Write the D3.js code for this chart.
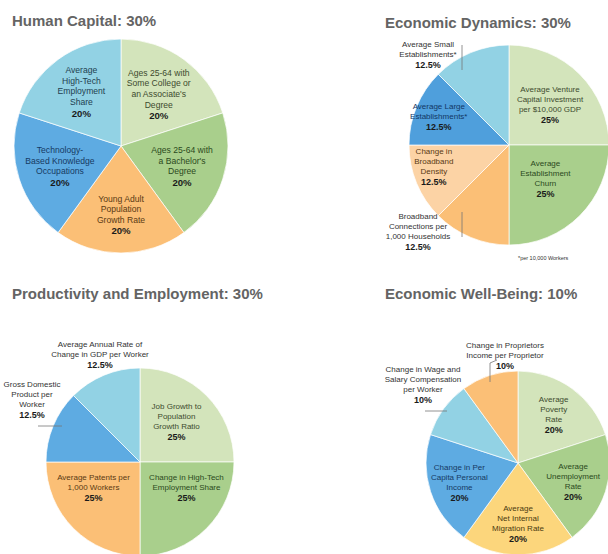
<!DOCTYPE html>
<html>
	<head>
		<meta charset="utf-8">
		<title></title>
		<style type="text/css">
			body{ margin:0; background:#fff; }
			text{ font-family: "Liberation Sans", Arial, sans-serif; }
		</style>
	</head>
	<body>
		<div id="svgCon"></div>
		<script src="https://d3js.org/d3.v7.min.js"></script>
		<script>
		// ---- data ----
		let hcTitle="Human Capital: 30%"
		let hcLabels=["Ages 25-64 with\nSome College or\nan Associate's\nDegree","Ages 25-64 with\na Bachelor's\nDegree","Young Adult\nPopulation\nGrowth Rate","Technology-\nBased Knowledge\nOccupations","Average\nHigh-Tech\nEmployment\nShare"]
		let hcValues=[20,20,20,20,20]

		let edTitle="Economic Dynamics: 30%"
		let edLabels=["Average Venture\nCapital Investment\nper $10,000 GDP","Average\nEstablishment\nChurn","Broadband\nConnections per\n1,000 Households","Change in\nBroadband\nDensity","Average Large\nEstablishments*","Average Small\nEstablishments*"]
		let edValues=[25,25,12.5,12.5,12.5,12.5]

		let peTitle="Productivity and Employment: 30%"
		let peLabels=["Job Growth to\nPopulation\nGrowth Ratio","Change in High-Tech\nEmployment Share","Average Patents per\n1,000 Workers","Gross Domestic\nProduct per\nWorker","Average Annual Rate of\nChange in GDP per Worker"]
		let peValues=[25,25,25,12.5,12.5]

		let wbTitle="Economic Well-Being: 10%"
		let wbLabels=["Average\nPoverty\nRate","Average\nUnemployment\nRate","Average\nNet Internal\nMigration Rate","Change in Per\nCapita Personal\nIncome","Change in Wage and\nSalary Compensation\nper Worker","Change in Proprietors\nIncome per Proprietor"]
		let wbValues=[20,20,20,20,10,10]

		let footnote="*per 10,000 Workers"

		// ---- colours ----
		let lightGreen="#d3e4bb", green="#a9cf8c", orange="#fbbf76", blue="#5eabe2",
			lightBlue="#92d2e4", lightOrange="#fcd3a5", yellow="#fcd67c", deepBlue="#4f9fdc"
		let inkFor={}
		inkFor[lightGreen]="#3d4b2e"; inkFor[green]="#2b4a1c"; inkFor[orange]="#5a3a14";
		inkFor[blue]="#163a62"; inkFor[lightBlue]="#1e3f50"; inkFor[lightOrange]="#5a3a14";
		inkFor[yellow]="#4a3a10"; inkFor[deepBlue]="#123765";

		// ---- layout (positions only) ----
		let pies=[
			{title:hcTitle, labels:hcLabels, values:hcValues,
			 colors:[lightGreen,green,orange,blue,lightBlue], fs:8.6, lh:10.6,
			 cx:121, cy:146, r:107, tx:12, ty:26, lr:[0.6,0.6,0.64,0.6,0.63], outside:{}},
			{title:edTitle, labels:edLabels, values:edValues,
			 colors:[lightGreen,green,orange,lightOrange,deepBlue,lightBlue], fs:8, lh:10,
			 cx:509, cy:145, r:100, tx:385, ty:28, lr:[0.58,0.49,0,0.78,0.76,0], shift:[0,-3,0,7,0,0],
			 outside:{
				2:{at:[-91,86], line:[[-47,67],[-47,92]]},
				5:{at:[-81,-91], line:[[-47,-100],[-47,-75]]}
			 }},
			{title:peTitle, labels:peLabels, values:peValues,
			 colors:[lightGreen,green,orange,blue,lightBlue], fs:8, lh:10,
			 cx:140, cy:462, r:94, tx:12, ty:299, lr:[0.58,0.56,0.56,0,0], shift:[-3,-17,17,0,0],
			 outside:{
				3:{at:[-108,-63], line:[[-102,-36],[-78,-36]]},
				4:{at:[-40,-108], line:null}
			 }},
			{title:wbTitle, labels:wbLabels, values:wbValues,
			 colors:[lightGreen,green,yellow,blue,lightBlue,orange], fs:8, lh:10,
			 cx:518, cy:463, r:92, tx:385, ty:299, lr:[0.66,0.63,0.65,0.67,0,0],
			 outside:{
				4:{at:[-95,-79], line:[[-93,-52],[-71,-52]]},
				5:{at:[-13,-108], line:[[-21,-103],[-28,-100],[-28,-81]]}
			 }}
		]

		let w=608, h=554
		let svg=d3.select("#svgCon").append("svg")
			.attr("width",w)
			.attr("height",h)

		let pie=d3.pie().sort(null).value(function(d){ return d; })
		let fmt=function(v){ return v+"%"; }

		// draws a block of lines + bold percent, centred on (x,y)
		function block(g,x,y,label,value,ink,fs,lh){
			let lines=label.split("\n")
			let n=lines.length+1
			let y0=y-(n-1)*lh/2+3
			let t=g.append("text")
				.attr("text-anchor","middle")
				.attr("fill",ink)
			lines.forEach(function(s,i){
				t.append("tspan").attr("x",x).attr("y",y0+i*lh)
					.attr("font-size",fs+"px").text(s)
			})
			t.append("tspan").attr("x",x).attr("y",y0+lines.length*lh+1)
				.attr("font-size",(fs+1)+"px").attr("font-weight","bold")
				.attr("fill","#1a1a1a").text(fmt(value))
		}

		pies.forEach(function(p){
			svg.append("text")
				.attr("x",p.tx)
				.attr("y",p.ty)
				.attr("font-size","15px")
				.attr("font-weight","bold")
				.attr("fill","#646464")
				.text(p.title)

			let g=svg.append("g").attr("transform","translate("+p.cx+","+p.cy+")")
			let arc=d3.arc().innerRadius(0).outerRadius(p.r)
			let arcs=pie(p.values)

			g.selectAll("path")
				.data(arcs)
				.enter()
				.append("path")
				.attr("d",arc)
				.attr("fill",function(d,i){ return p.colors[i]; })
				.attr("stroke","#fff")
				.attr("stroke-opacity",0.7)
				.attr("stroke-width",1)

			arcs.forEach(function(d,i){
				let o=p.outside[i]
				if(o){
					block(g,o.at[0],o.at[1],p.labels[i],p.values[i],"#333",8,10)
					if(o.line){
						g.append("path")
							.attr("d",d3.line()(o.line))
							.attr("fill","none")
							.attr("stroke","#777")
							.attr("stroke-width",0.8)
					}
				}else{
					let rr=p.r*p.lr[i]
					let a=(d.startAngle+d.endAngle)/2+((p.shift?p.shift[i]:0)*Math.PI/180)
					let x=Math.sin(a)*rr, y=-Math.cos(a)*rr
					block(g,x,y,p.labels[i],p.values[i],inkFor[p.colors[i]],p.fs,p.lh)
				}
			})
		})

		svg.append("text")
			.attr("x",518)
			.attr("y",260)
			.attr("font-size","5.5px")
			.attr("fill","#333")
			.text(footnote)
		</script>
	</body>
</html>
